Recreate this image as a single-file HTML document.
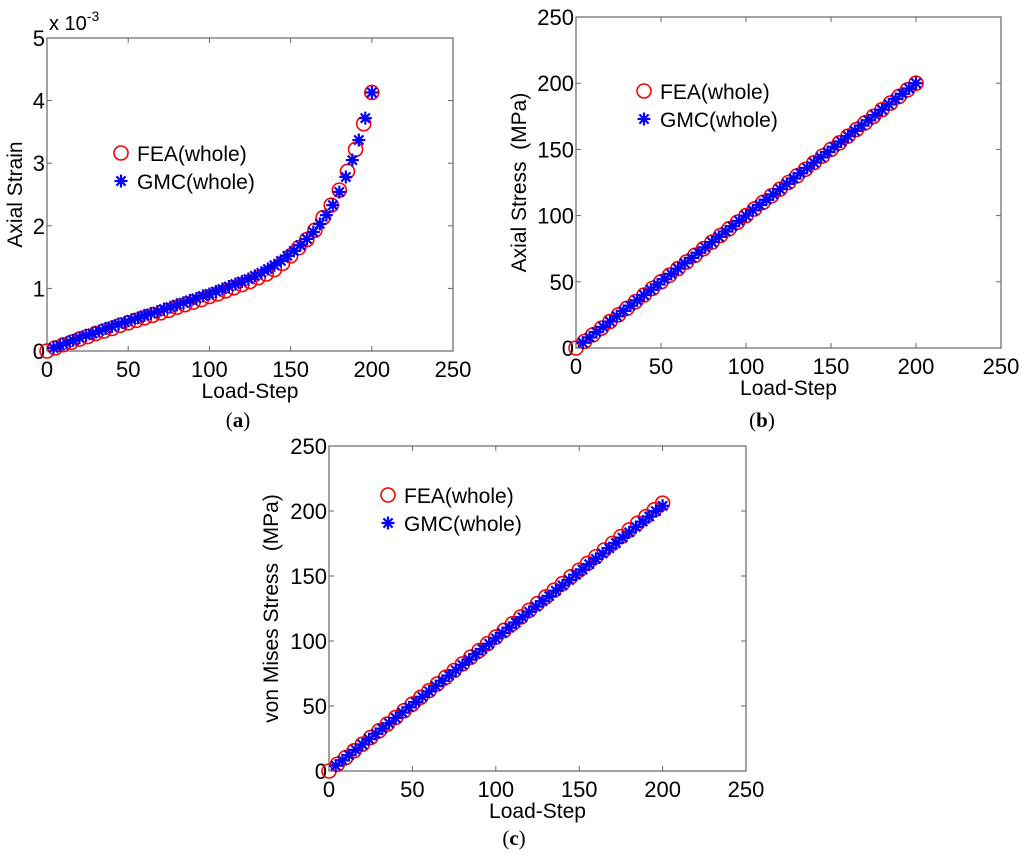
<!DOCTYPE html>
<html><head><meta charset="utf-8"><style>
body{margin:0;background:#fff;width:1024px;height:857px;overflow:hidden}
svg{display:block}
text{font-family:"Liberation Sans",Arial,sans-serif;fill:#000}
.cap{font-family:"Liberation Serif",serif;font-size:21px}
</style></head><body>
<svg id="fig" width="1024" height="857"></svg>
<script>
const xTicks=[0,50,100,150,200,250];
const strainTicks=[0,1,2,3,4,5];
const stressTicks=[0,50,100,150,200,250];
const feaX=[0,5,10,15,20,25,30,35,40,45,50,55,60,65,70,75,80,85,90,95,100,105,110,115,120,125,130,135,140,145,150,155,160,165,170,175,180,185,190,195,200];
const gmcX=[4,8,12,16,20,24,28,32,36,40,44,48,52,56,60,64,68,72,76,80,84,88,92,96,100,104,108,112,116,120,124,128,132,136,140,144,148,152,156,160,164,168,172,176,180,184,188,192,196,200];
const feaStrain=[0,0.05,0.1,0.14,0.19,0.23,0.28,0.32,0.36,0.41,0.45,0.49,0.53,0.57,0.61,0.65,0.7,0.74,0.78,0.82,0.87,0.91,0.96,1.01,1.06,1.11,1.17,1.23,1.3,1.4,1.52,1.65,1.78,1.93,2.13,2.33,2.57,2.87,3.22,3.63,4.13];
const gmcStrain=[0.05,0.09,0.13,0.17,0.21,0.25,0.28,0.32,0.36,0.39,0.43,0.46,0.5,0.53,0.57,0.6,0.63,0.67,0.7,0.74,0.77,0.81,0.84,0.88,0.91,0.95,0.99,1.03,1.07,1.11,1.15,1.2,1.25,1.31,1.37,1.44,1.52,1.6,1.69,1.79,1.9,2.03,2.17,2.33,2.54,2.78,3.05,3.37,3.72,4.13];
const feaAxial=[0,5,10,15,20,25,30,35,40,45,50,55,60,65,70,75,80,85,90,95,100,105,110,115,120,125,130,135,140,145,150,155,160,165,170,175,180,185,190,195,200];
const gmcAxial=[4,8,12,16,20,24,28,32,36,40,44,48,52,56,60,64,68,72,76,80,84,88,92,96,100,104,108,112,116,120,124,128,132,136,140,144,148,152,156,160,164,168,172,176,180,184,188,192,196,200];
const feaMises=[0,5.2,10.3,15.5,20.6,25.8,30.9,36.1,41.2,46.4,51.5,56.7,61.8,67,72.1,77.3,82.4,87.6,92.7,97.9,103,108.2,113.3,118.5,123.6,128.8,133.9,139.1,144.2,149.4,154.5,159.7,164.8,170,175.1,180.3,185.4,190.6,195.7,200.9,206];
const gmcMises=[4.1,8.2,12.2,16.3,20.4,24.5,28.6,32.6,36.7,40.8,44.9,49,53,57.1,61.2,65.3,69.4,73.4,77.5,81.6,85.7,89.8,93.8,97.9,102,106.1,110.2,114.2,118.3,122.4,126.5,130.6,134.6,138.7,142.8,146.9,151,155,159.1,163.2,167.3,171.4,175.4,179.5,183.6,187.7,191.8,195.8,199.9,204];

const NS="http://www.w3.org/2000/svg";
const svg=document.getElementById('fig');
function mk(tag,attrs,parent,txt){const e=document.createElementNS(NS,tag);for(const k in attrs)e.setAttribute(k,attrs[k]);if(txt!==undefined)e.textContent=txt;(parent||svg).appendChild(e);return e;}
function star(g,cx,cy,r){
  const s=mk('g',{stroke:'#0000ff','stroke-width':2.2},g);
  
  
  for(let a=0;a<4;a++){const t=a*Math.PI/4;mk('line',{x1:cx-r*Math.cos(t),y1:cy-r*Math.sin(t),x2:cx+r*Math.cos(t),y2:cy+r*Math.sin(t)},s);}
}
function circ(g,cx,cy){
  const c=mk('circle',{cx:cx,cy:cy,r:7,fill:'none',stroke:'#ff0000','stroke-width':1.6},g);
  
  
}
function panel(o){
  const g=mk('g',{});
  
  
  const X=v=>o.L+(v-0)/250*(o.R-o.L);
  const Y=v=>o.B-(v-0)/o.ymax*(o.B-o.T);
  const box=mk('rect',{x:o.L,y:o.T,width:o.R-o.L,height:o.B-o.T,fill:'#fff',stroke:'#666','stroke-width':1.2},g);
  
  
  xTicks.forEach(v=>{
    mk('line',{x1:X(v),x2:X(v),y1:o.B,y2:o.B-5,stroke:'#666'},g);
    mk('line',{x1:X(v),x2:X(v),y1:o.T,y2:o.T+5,stroke:'#666'},g);
    const t=mk('text',{x:X(v),y:o.B+26,'text-anchor':'middle','font-size':22},g,String(v));
    
    
  });
  o.yticks.forEach(v=>{
    mk('line',{x1:o.L,x2:o.L+5,y1:Y(v),y2:Y(v),stroke:'#666'},g);
    mk('line',{x1:o.R,x2:o.R-5,y1:Y(v),y2:Y(v),stroke:'#666'},g);
    const t=mk('text',{x:o.L-2,y:Y(v)+8,'text-anchor':'end','font-size':22},g,String(v));
    
    
  });
  const xl=mk('text',{x:(o.L+o.R)/2,y:o.B+47,'text-anchor':'middle','font-size':21},g,'Load-Step');
  
  
  const yl=mk('text',{x:o.ylx,y:(o.T+o.B)/2,'text-anchor':'middle','font-size':21,transform:`rotate(-90 ${o.ylx} ${(o.T+o.B)/2})`},g,o.ylabel);
  
  
  feaX.forEach((x,i)=>circ(g,X(x),Y(o.fea[i])));
  gmcX.forEach((x,i)=>star(g,X(x),Y(o.gmc[i]),6.5));
  const lg=mk('g',{},g);
  
  
  circ(lg,o.lx,o.ly);
  const t1=mk('text',{x:o.lx+16,y:o.ly+8,'font-size':21},lg,'FEA(whole)');
  
  
  star(lg,o.lx,o.ly+28,6.5);
  const t2=mk('text',{x:o.lx+16,y:o.ly+36,'font-size':21},lg,'GMC(whole)');
  
  
  const cp=mk('text',{x:o.capx,y:o.capy,'text-anchor':'middle','class':'cap'},g);
  
  
  cp.innerHTML='(<tspan font-weight="bold">'+o.cap+'</tspan>)';
  return g;
}
panel({name:'panel-a-axial-strain',L:47,R:453,T:38,B:351,ymax:5,yticks:strainTicks,ylabel:'Axial Strain',ylx:22,fea:feaStrain,gmc:gmcStrain,lx:121,ly:153,cap:'a',capx:238,capy:427});
const ex=mk('text',{x:49,y:30,'font-size':20});


ex.innerHTML='x 10<tspan dy="-9" font-size="14">-3</tspan>';
panel({name:'panel-b-axial-stress',L:576,R:1001,T:17,B:348,ymax:250,yticks:stressTicks,ylabel:'Axial Stress\u00a0\u00a0(MPa)',ylx:526,fea:feaAxial,gmc:gmcAxial,lx:644,ly:91,cap:'b',capx:762,capy:427});
panel({name:'panel-c-von-mises-stress',L:329,R:746,T:446,B:771,ymax:250,yticks:stressTicks,ylabel:'von Mises Stress\u00a0\u00a0(MPa)',ylx:278,fea:feaMises,gmc:gmcMises,lx:388,ly:495,cap:'c',capx:514,capy:845});
</script>
</body></html>
